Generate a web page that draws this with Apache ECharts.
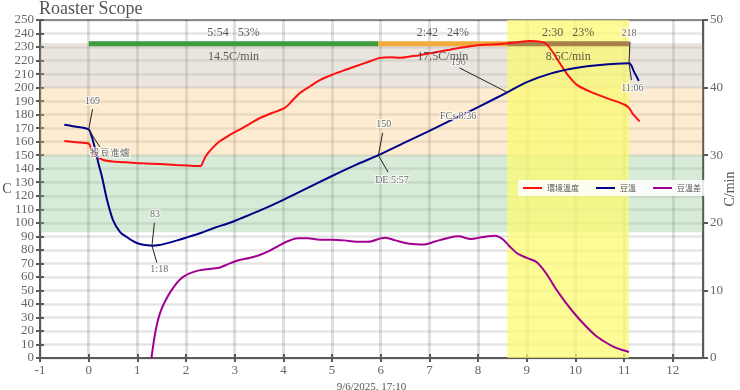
<!DOCTYPE html>
<html><head><meta charset="utf-8">
<script src="https://cdn.jsdelivr.net/npm/echarts@6/dist/echarts.min.js"></script>
<style>html,body{margin:0;padding:0;background:#fff}#c{width:740px;height:390px}</style>
</head><body><div id="c"></div>
<script>
// ---- data ----
const xTicks = [-1,0,1,2,3,4,5,6,7,8,9,10,11,12];
const legendNames = ['環境溫度','豆溫','豆溫差'];
const etData = [[-0.5,160.5],[-0.25,159.5],[0,158.5],[0.06,154],[0.16,149],[0.3,146.4],[0.5,145.3],[0.78,144.7],[1.1,144],[1.46,143.5],[1.8,142.8],[2.22,142],[2.3,142],[2.36,146],[2.42,150],[2.56,156],[2.7,160.5],[2.9,165],[3.1,169],[3.3,173],[3.52,177.5],[3.75,181],[4.03,185],[4.2,191],[4.34,196],[4.55,201],[4.75,205.5],[5.0,209.5],[5.26,213],[5.5,216],[5.78,219.5],[5.98,222],[6.2,222.5],[6.4,222],[6.6,223],[6.8,224],[7.1,226],[7.42,228],[7.7,229.8],[8.03,231.5],[8.45,232.2],[8.86,233.7],[9.05,234.5],[9.2,234.3],[9.37,233],[9.5,228],[9.68,218],[9.85,209],[10.03,202],[10.3,197],[10.7,191.5],[11.0,187.5],[11.1,185],[11.17,181],[11.32,175]];
const btData = [[-0.5,172.5],[-0.25,171],[0,169],[0.06,164],[0.13,155],[0.2,144],[0.28,133],[0.37,118],[0.5,102],[0.65,93],[0.78,89.5],[0.92,86.3],[1.05,84.3],[1.2,83.4],[1.3,83],[1.45,83.5],[1.6,84.8],[1.8,86.8],[2.0,89],[2.3,92.5],[2.56,96],[2.9,100],[3.1,102.9],[3.5,108.8],[4.0,117],[4.5,125.8],[5.0,134.6],[5.5,143],[5.95,150],[6.5,159.5],[7.0,168],[7.5,176.8],[8.0,185.6],[8.6,196.5],[9.0,204],[9.5,210.5],[10.0,214.5],[10.5,216.8],[11.1,218],[11.2,212],[11.3,205]];
const rorData = [[1.29,0],[1.35,3],[1.42,5.5],[1.5,7.3],[1.6,8.8],[1.7,10],[1.82,11.2],[1.94,12],[2.1,12.6],[2.29,13],[2.5,13.2],[2.7,13.4],[2.9,14],[3.1,14.5],[3.3,14.8],[3.5,15.2],[3.7,15.8],[3.9,16.6],[4.1,17.3],[4.3,17.7],[4.5,17.7],[4.75,17.5],[5.0,17.5],[5.25,17.4],[5.5,17.2],[5.75,17.2],[6.0,17.7],[6.1,17.8],[6.3,17.4],[6.6,16.9],[6.9,16.8],[7.1,17.2],[7.4,17.8],[7.6,18],[7.85,17.6],[8.1,17.9],[8.35,18.1],[8.5,17.6],[8.65,16.5],[8.8,15.5],[9.0,14.8],[9.2,14.2],[9.4,12.5],[9.6,10.2],[9.8,8.2],[10.0,6.4],[10.2,4.8],[10.4,3.4],[10.6,2.4],[10.8,1.6],[11.0,1.1],[11.1,0.9]];
// phases: start, end, duration text, percent, rate
const phaseStart = [0, 5.95, 8.6];
const phaseEnd = [5.95, 8.6, 11.1];
const phaseTime = ['5:54','2:42','2:30'];
const phasePct = ['53%','24%','23%'];
const phaseRate = ['14.5C/min','17.5C/min','8.5C/min'];
const phaseColors = ['#3d9a3d','#f2ab3a','#a8814a'];
const phaseBarY = 232.5;
// temperature zones [from, to]
const zoneRanges = [[93,150],[150,200],[200,233]];
const zoneColors = ['rgba(125,188,125,0.3)','rgba(248,192,105,0.3)','rgba(188,168,148,0.3)'];
const devWindow = [8.6, 11.1];
// events: point, upper label (text, pos, leader end), lower label
const events = [
  {x:0, y:169, up:'169', upPos:[0.08,190], upEnd:[0.08,184], dn:'投豆進爐', dnPos:[0.44,151.5], dnEnd:[0.23,156]},
  {x:1.3, y:83, up:'83', upPos:[1.36,106], upEnd:[1.35,100], dn:'1:18', dnPos:[1.45,65.5], dnEnd:[1.4,70.5]},
  {x:5.95, y:150, up:'150', upPos:[6.06,172.5], upEnd:[6.04,166.5], dn:'DE 5:57', dnPos:[6.23,131.5], dnEnd:[6.15,137.5]},
  {x:8.6, y:196.5, up:'196', upPos:[7.59,218.5], upEnd:[7.62,214.5], dn:'FCs 8:36', dnPos:[7.59,179], dnEnd:null},
  {x:11.1, y:218, up:'218', upPos:[11.1,240], upEnd:[11.12,234], dn:'11:06', dnPos:[11.17,199.5], dnEnd:[11.15,205.5]}
];

const serif = 'Liberation Serif';
const axisCol = '#5a5a5a';
const chart = echarts.init(document.getElementById('c'), null, {renderer:'canvas'});

const leaderData = [];
const annoLabels = [];
events.forEach(e => {
  leaderData.push({coords:[[e.x,e.y], e.upEnd]});
  if (e.dnEnd) leaderData.push({coords:[[e.x,e.y], e.dnEnd]});
  annoLabels.push({value:e.upPos, name:e.up});
  annoLabels.push({value:e.dnPos, name:e.dn});
});
const phaseLabels = [];
phaseStart.forEach((s,i) => {
  const c = (s + phaseEnd[i]) / 2;
  phaseLabels.push({value:[c,240.5], name:phaseTime[i] + '   ' + phasePct[i]});
  phaseLabels.push({value:[c,222.5], name:phaseRate[i]});
});

const series = [
  {type:'line', name:'zones', data:[], z:1, silent:true,
   markArea:{silent:true, data: zoneRanges.map((r,i)=>[{yAxis:r[0], itemStyle:{color:zoneColors[i]}},{yAxis:r[1]}])}},
  {type:'line', name:'dev', data:[], z:1, silent:true,
   markArea:{silent:true, data:[[{xAxis:devWindow[0], itemStyle:{color:'rgba(252,250,110,0.72)'}},{xAxis:devWindow[1]}]]}}
];
phaseStart.forEach((s,i) => {
  series.push({type:'line', name:'phase'+i, data:[[s,phaseBarY],[phaseEnd[i],phaseBarY]], symbol:'none',
    lineStyle:{color:phaseColors[i], width:5, cap:'butt'}, z:3, silent:true});
});
series.push(
  {type:'line', name:'環境溫度', data:etData, smooth:0.3, symbol:'none', lineStyle:{color:'#ff1010', width:2}, itemStyle:{color:'#ff1010'}, z:5},
  {type:'line', name:'豆溫', data:btData, smooth:0.3, symbol:'none', lineStyle:{color:'#000088', width:2}, itemStyle:{color:'#000088'}, z:6},
  {type:'line', name:'豆溫差', data:rorData, yAxisIndex:1, smooth:0.3, symbol:'none', lineStyle:{color:'#a0008f', width:2}, itemStyle:{color:'#a0008f'}, z:5},
  {type:'lines', coordinateSystem:'cartesian2d', data:leaderData, lineStyle:{color:'#222', width:1, opacity:1}, z:7, silent:true},
  {type:'scatter', data:annoLabels, symbolSize:1, itemStyle:{color:'rgba(0,0,0,0)'}, z:8, silent:true,
   label:{show:true, position:'inside', formatter:p=>p.name, fontFamily:serif, fontSize:10, color:'#444', textBorderColor:'#fff', textBorderWidth:2}},
  {type:'scatter', data:phaseLabels, symbolSize:1, itemStyle:{color:'rgba(0,0,0,0)'}, z:8, silent:true,
   label:{show:true, position:'inside', formatter:p=>p.name, fontFamily:serif, fontSize:12, color:'#333'}}
);

const tickFmt = v => (xTicks.indexOf(v) >= 0 ? String(v) : '');
chart.setOption({
  animation:false,
  backgroundColor:'#fff',
  title:{text:'Roaster Scope', left:39, top:0, padding:0, textStyle:{fontFamily:serif, fontSize:18, fontWeight:'normal', color:'#555'}},
  legend:{data:legendNames, left:518, top:180, icon:'rect', itemWidth:19, itemHeight:2, itemGap:17,
    backgroundColor:'rgba(255,255,255,0.85)', padding:[4,5], borderRadius:2,
    textStyle:{fontFamily:'Noto Sans CJK TC', fontSize:8, color:'#555'}},
  grid:{left:40, right:37, top:20, bottom:32, outerBoundsMode:'none', containLabel:false, show:true, borderColor:'#777', borderWidth:1.5, backgroundColor:'transparent'},
  xAxis:[
    {type:'value', min:-1, max:12.62, interval:1, position:'bottom',
     name:'9/6/2025, 17:10', nameLocation:'middle', nameGap:24, nameTextStyle:{fontFamily:serif, fontSize:11, color:'#555'},
     axisLine:{show:true, onZero:false, lineStyle:{color:axisCol, width:2}},
     axisTick:{show:true, length:4, lineStyle:{color:axisCol, width:2}},
     axisLabel:{formatter:tickFmt, fontFamily:serif, fontSize:13, color:'#666', margin:6, showMaxLabel:false},
     splitLine:{show:true, lineStyle:{color:'rgba(0,0,0,0.12)', width:3}}},
    {type:'value', min:-1, max:12.62, interval:1, position:'bottom',
     axisLine:{show:false, onZero:false}, axisLabel:{show:false}, splitLine:{show:false},
     axisTick:{show:true, inside:true, length:4, lineStyle:{color:axisCol, width:2}}}
  ],
  yAxis:[
    {type:'value', min:0, max:250, interval:10, position:'left',
     name:'C', nameLocation:'middle', nameGap:33, nameRotate:0, nameMoveOverlap:false,
     nameTextStyle:{fontFamily:serif, fontSize:14, color:'#555', align:'center', verticalAlign:'middle'},
     axisLine:{show:true, onZero:false, lineStyle:{color:axisCol, width:2}},
     axisTick:{show:true, length:4, lineStyle:{color:axisCol, width:2}},
     axisLabel:{fontFamily:serif, fontSize:13, color:'#666', margin:6},
     splitLine:{show:true, lineStyle:{color:'rgba(0,0,0,0.10)', width:2.5}}},
    {type:'value', min:0, max:50, interval:10, position:'right',
     name:'C/min', nameLocation:'middle', nameGap:27, nameRotate:90, nameMoveOverlap:false,
     nameTextStyle:{fontFamily:serif, fontSize:14, color:'#555', align:'center', verticalAlign:'middle'},
     axisLine:{show:true, onZero:false, lineStyle:{color:axisCol, width:2}},
     axisTick:{show:true, length:5, lineStyle:{color:axisCol, width:2}},
     axisLabel:{fontFamily:serif, fontSize:13, color:'#666', margin:7},
     splitLine:{show:false}},
    {type:'value', min:0, max:250, interval:10, position:'left',
     axisLine:{show:false, onZero:false}, axisLabel:{show:false}, splitLine:{show:false},
     axisTick:{show:true, inside:true, length:4, lineStyle:{color:axisCol, width:2}}}
  ],
  series: series
});
</script></body></html>
